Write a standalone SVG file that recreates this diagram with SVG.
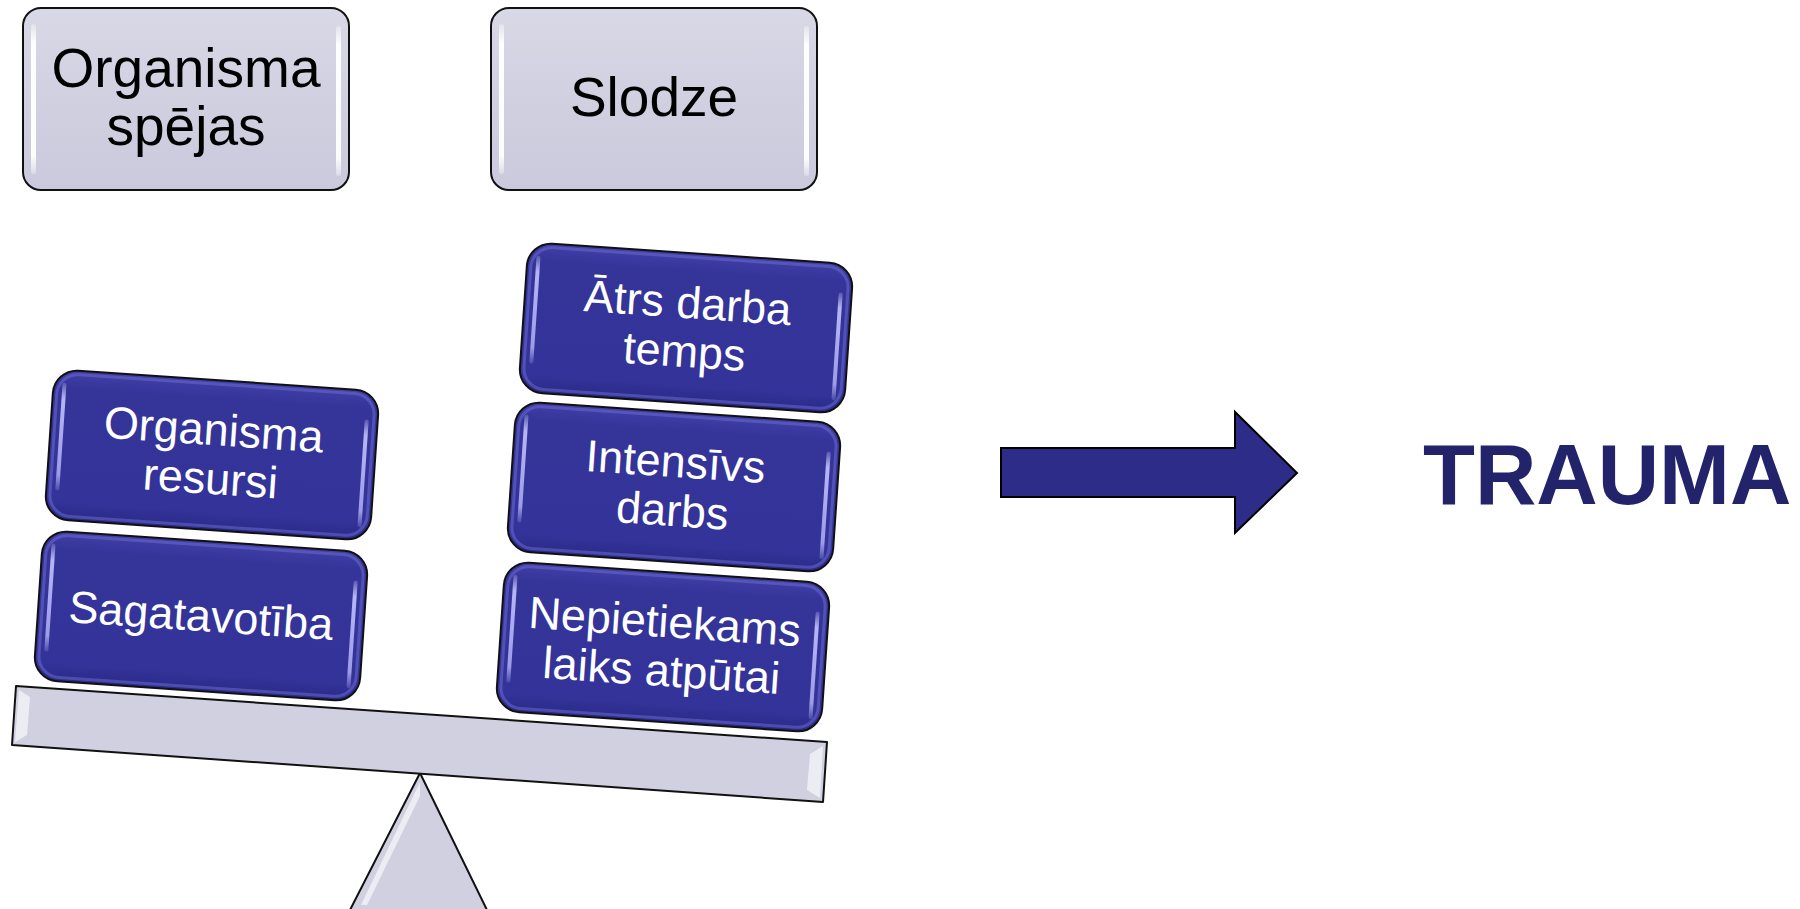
<svg xmlns="http://www.w3.org/2000/svg" width="1800" height="909" viewBox="0 0 1800 909">
<defs>
  <linearGradient id="grayFill" x1="0" y1="0" x2="0" y2="1">
    <stop offset="0" stop-color="#d8d8e6"/>
    <stop offset="0.5" stop-color="#d0d0e1"/>
    <stop offset="1" stop-color="#cacadc"/>
  </linearGradient>
  <linearGradient id="blueFill" x1="0" y1="0" x2="0" y2="1">
    <stop offset="0" stop-color="#4040a8"/>
    <stop offset="0.12" stop-color="#343499"/>
    <stop offset="0.88" stop-color="#333399"/>
    <stop offset="1" stop-color="#2a2a88"/>
  </linearGradient>
  <linearGradient id="hlBlue" x1="0" y1="0" x2="0" y2="1">
    <stop offset="0" stop-color="#d8d8ff" stop-opacity="0.2"/>
    <stop offset="0.15" stop-color="#c4c4ff" stop-opacity="0.9"/>
    <stop offset="0.85" stop-color="#a8a8f0" stop-opacity="0.9"/>
    <stop offset="1" stop-color="#a8a8f0" stop-opacity="0.2"/>
  </linearGradient>
  <linearGradient id="hlGray" x1="0" y1="0" x2="0" y2="1">
    <stop offset="0" stop-color="#ffffff" stop-opacity="0.3"/>
    <stop offset="0.12" stop-color="#ffffff" stop-opacity="0.95"/>
    <stop offset="0.88" stop-color="#ffffff" stop-opacity="0.95"/>
    <stop offset="1" stop-color="#ffffff" stop-opacity="0.3"/>
  </linearGradient>
  <g id="blueBox">
    <rect x="-163" y="-75" width="326" height="150" rx="24" ry="24" class="bb"/>
    <rect x="-159" y="-71" width="318" height="142" rx="21" ry="21" fill="none" stroke="#6a6ad0" stroke-opacity="0.55" stroke-width="3"/>
    <rect x="-154" y="-62" width="4" height="108" rx="2" fill="url(#hlBlue)"/>
    <rect x="150" y="-46" width="4" height="108" rx="2" fill="url(#hlBlue)"/>
  </g>
</defs>
<style>
  .gb { fill: url(#grayFill); stroke: #111; stroke-width: 2; }
  .bb { fill: url(#blueFill); stroke: #111; stroke-width: 2; }
  .gt { font-family: "Liberation Sans", Arial, sans-serif; font-size: 55px; fill: #000; text-anchor: middle; }
  .bt { font-family: "Liberation Sans", Arial, sans-serif; font-size: 45px; fill: #fff; text-anchor: middle; }
  .tr { font-family: "Liberation Sans", Arial, sans-serif; font-size: 85px; font-weight: bold; fill: #23236b; }
  .scale { fill: #d0d0e0; stroke: #111; stroke-width: 2; stroke-linejoin: round; }
</style>
<rect width="1800" height="909" fill="#ffffff"/>

<g id="fulcrum">
  <polygon class="scale" points="420,773 350,910 487,910"/>
  <polygon points="420,782 361,905 367,905 420,796" fill="#ffffff" fill-opacity="0.6"/>
</g>

<g id="beam">
  <polygon class="scale" points="16,686 827,742 823,802 12,745"/>
  <polygon points="19,690 30,697 27,735 15,742" fill="#ffffff" fill-opacity="0.6"/>
  <polygon points="823,746 810,754 807,790 820,798" fill="#ffffff" fill-opacity="0.6"/>
</g>

<g id="node-organisma-spejas">
  <rect class="gb" x="23" y="8" width="326" height="182" rx="18" ry="18"/>
  <rect x="31" y="24" width="5" height="150" rx="2.5" fill="url(#hlGray)"/>
  <rect x="336" y="26" width="5" height="150" rx="2.5" fill="url(#hlGray)"/>
  <text class="gt" x="186" y="87">Organisma</text>
  <text class="gt" x="186" y="145">spējas</text>
</g>

<g id="node-slodze">
  <rect class="gb" x="491" y="8" width="326" height="182" rx="18" ry="18"/>
  <rect x="499" y="24" width="5" height="150" rx="2.5" fill="url(#hlGray)"/>
  <rect x="804" y="26" width="5" height="150" rx="2.5" fill="url(#hlGray)"/>
  <text class="gt" x="654" y="116">Slodze</text>
</g>

<g id="node-sagatavotiba" transform="translate(201,616) rotate(3.9)">
  <use href="#blueBox"/>
  <text class="bt" x="0" y="15">Sagatavotība</text>
</g>

<g id="node-organisma-resursi" transform="translate(212,455) rotate(3.9)">
  <use href="#blueBox"/>
  <text class="bt" x="0" y="-10">Organisma</text>
  <text class="bt" x="0" y="39">resursi</text>
</g>

<g id="node-nepietiekams" transform="translate(663,647) rotate(3.9)">
  <use href="#blueBox"/>
  <text class="bt" x="0" y="-10">Nepietiekams</text>
  <text class="bt" x="0" y="39">laiks atpūtai</text>
</g>

<g id="node-intensivs" transform="translate(674,487) rotate(3.9)">
  <use href="#blueBox"/>
  <text class="bt" x="0" y="-10">Intensīvs</text>
  <text class="bt" x="0" y="39">darbs</text>
</g>

<g id="node-atrs" transform="translate(686,328) rotate(3.9)">
  <use href="#blueBox"/>
  <text class="bt" x="0" y="-10">Ātrs darba</text>
  <text class="bt" x="0" y="39">temps</text>
</g>

<g id="connectors">
  <polygon points="1001,448 1235,448 1235,412 1297,473 1235,533 1235,497 1001,497" fill="#2d2d89" stroke="#000" stroke-width="2" stroke-linejoin="miter"/>
</g>

<g id="node-trauma">
  <text class="tr" x="1423" y="504">TRAUMA</text>
</g>
</svg>
